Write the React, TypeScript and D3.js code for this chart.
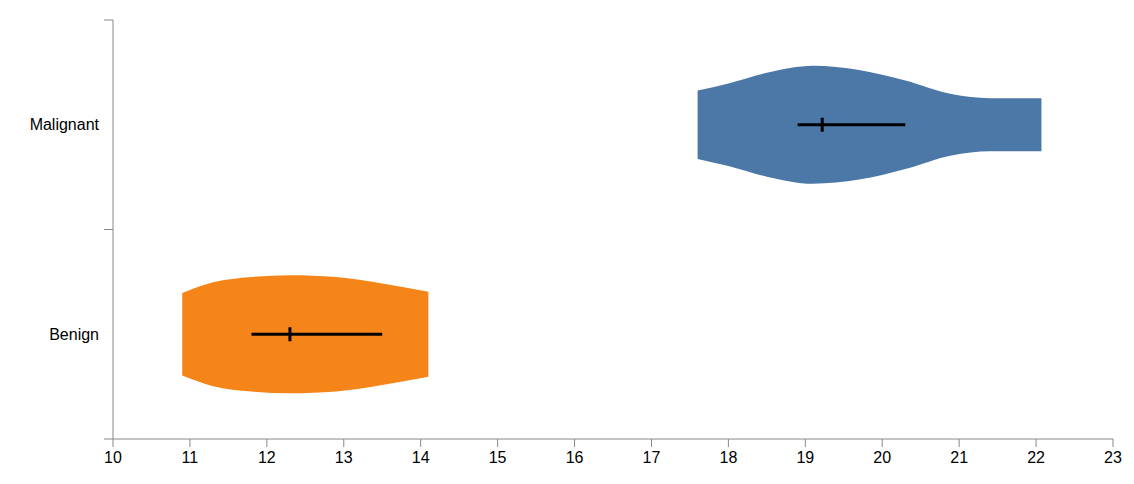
import * as d3 from 'd3';
import React from 'react';

const categories = ['Malignant', 'Benign'];
const colors = ['#4c78a8', '#f58518'];
// density profile: [value, density]
const malignantDensity: [number, number][] = [
  [17.6, 0.58], [18.0, 0.7], [18.5, 0.88], [19.1, 1.0], [19.7, 0.93], [20.3, 0.75], [20.9, 0.52], [21.4, 0.45], [22.07, 0.45],
];
const benignDensity: [number, number][] = [
  [10.9, 0.7], [11.3, 0.88], [11.8, 0.97], [12.3, 1.0], [12.9, 0.97], [13.5, 0.86], [14.1, 0.72],
];
const densities = [malignantDensity, benignDensity];
// [low, mean, high]
const intervals = [[18.9, 19.22, 20.3], [11.8, 12.3, 13.5]];
const xTicks = d3.range(10, 24);

const W = 1134, H = 484;
const margin = { left: 113, right: 21, top: 20, bottom: 45 };

export default function App() {
  const x = d3.scaleLinear().domain([10, 23]).range([margin.left, W - margin.right]);
  const y = d3.scaleBand().domain(categories).range([margin.top, H - margin.bottom]);
  const w = d3.scaleLinear().domain([0, 1]).range([0, 59]);
  return (
    <svg width={W} height={H} style={{ position: 'absolute', left: 0, top: 0, fontFamily: 'Arial, Liberation Sans, sans-serif' }}>
      {categories.map((c, i) => {
        const cy = y(c)! + y.bandwidth() / 2;
        const area = d3.area<[number, number]>()
          .x((d) => x(d[0]))
          .y0((d) => cy - w(d[1]))
          .y1((d) => cy + w(d[1]))
          .curve(d3.curveMonotoneX);
        const [lo, m, hi] = intervals[i];
        return (
          <g key={c}>
            <path d={area(densities[i])!} fill={colors[i]} />
            <line x1={x(lo)} x2={x(hi)} y1={cy} y2={cy} stroke="#000" strokeWidth={3} />
            <line x1={x(m)} x2={x(m)} y1={cy - 7} y2={cy + 7} stroke="#000" strokeWidth={3} />
            <text x={margin.left - 14} y={cy} dy="0.35em" textAnchor="end" fontSize={16}>{c}</text>
          </g>
        );
      })}
      <line x1={margin.left} x2={margin.left} y1={margin.top} y2={H - margin.bottom} stroke="#888" />
      {[0, 1, 2].map((k) => {
        const yy = margin.top + k * y.bandwidth();
        return <line key={k} x1={margin.left - 9} x2={margin.left} y1={yy} y2={yy} stroke="#888" />;
      })}
      <line x1={margin.left} x2={W - margin.right} y1={H - margin.bottom} y2={H - margin.bottom} stroke="#888" />
      {xTicks.map((t) => (
        <g key={t}>
          <line x1={x(t)} x2={x(t)} y1={H - margin.bottom} y2={H - margin.bottom + 8} stroke="#888" />
          <text x={x(t)} y={H - margin.bottom + 24} textAnchor="middle" fontSize={16}>{t}</text>
        </g>
      ))}
    </svg>
  );
}
